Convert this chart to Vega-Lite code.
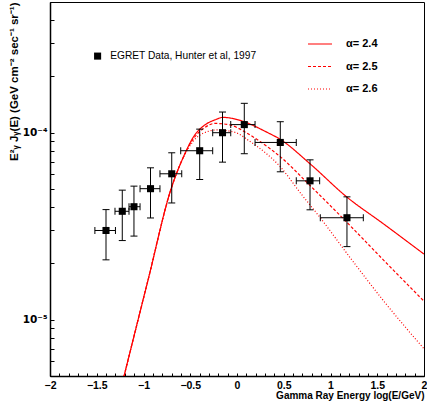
{
  "$schema": "https://vega.github.io/schema/vega-lite/v6.json",
  "width": 374,
  "height": 374,
  "autosize": {"type": "none"},
  "padding": {"left": 50, "top": 2, "right": 3, "bottom": 32},
  "background": "white",
  "config": {
    "view": {"stroke": "black", "strokeWidth": 1},
    "axis": {"grid": false, "labelOverlap": false, "labelBound": false, "domainColor": "black", "domainWidth": 1.5, "tickColor": "black", "tickWidth": 1, "labelFont": "Liberation Sans", "labelFontWeight": "bold", "labelColor": "black", "titleFont": "Liberation Sans", "titleColor": "black"}
  },
  "datasets": {
    "egret": [
      {"x": -1.401, "y": 3.0e-5, "ylo": 2.09e-5, "yhi": 3.88e-5, "xlo": -1.52, "xhi": -1.30},
      {"x": -1.227, "y": 3.80e-5, "ylo": 2.65e-5, "yhi": 4.93e-5, "xlo": -1.305, "xhi": -1.155},
      {"x": -1.102, "y": 4.02e-5, "ylo": 2.80e-5, "yhi": 5.18e-5, "xlo": -1.155, "xhi": -1.037},
      {"x": -0.925, "y": 5.02e-5, "ylo": 3.50e-5, "yhi": 6.49e-5, "xlo": -1.037, "xhi": -0.824},
      {"x": -0.698, "y": 6.03e-5, "ylo": 4.21e-5, "yhi": 7.81e-5, "xlo": -0.824, "xhi": -0.591},
      {"x": -0.399, "y": 8.01e-5, "ylo": 5.62e-5, "yhi": 1.045e-4, "xlo": -0.602, "xhi": -0.26},
      {"x": -0.155, "y": 1.0e-4, "ylo": 6.96e-5, "yhi": 1.29e-4, "xlo": -0.26, "xhi": -0.067},
      {"x": 0.078, "y": 1.105e-4, "ylo": 7.72e-5, "yhi": 1.436e-4, "xlo": -0.067, "xhi": 0.193},
      {"x": 0.463, "y": 8.87e-5, "ylo": 6.18e-5, "yhi": 1.145e-4, "xlo": 0.193, "xhi": 0.634},
      {"x": 0.781, "y": 5.53e-5, "ylo": 3.87e-5, "yhi": 7.16e-5, "xlo": 0.634, "xhi": 0.884},
      {"x": 1.176, "y": 3.51e-5, "ylo": 2.46e-5, "yhi": 4.54e-5, "xlo": 0.891, "xhi": 1.351}
    ],
    "models": [
      {"alpha": "α= 2.4", "x": -1.209, "y": 4.97e-6},
      {"alpha": "α= 2.4", "x": -0.953, "y": 1.618e-5},
      {"alpha": "α= 2.4", "x": -0.6995, "y": 5.11e-5},
      {"alpha": "α= 2.4", "x": -0.574, "y": 7.40e-5},
      {"alpha": "α= 2.4", "x": -0.467, "y": 9.47e-5},
      {"alpha": "α= 2.4", "x": -0.324, "y": 1.117e-4},
      {"alpha": "α= 2.4", "x": -0.235, "y": 1.171e-4},
      {"alpha": "α= 2.4", "x": -0.150, "y": 1.208e-4},
      {"alpha": "α= 2.4", "x": 0.032, "y": 1.164e-4},
      {"alpha": "α= 2.4", "x": 0.318, "y": 1.007e-4},
      {"alpha": "α= 2.4", "x": 0.463, "y": 9.21e-5},
      {"alpha": "α= 2.4", "x": 0.781, "y": 6.82e-5},
      {"alpha": "α= 2.4", "x": 1.177, "y": 4.52e-5},
      {"alpha": "α= 2.4", "x": 1.565, "y": 3.26e-5},
      {"alpha": "α= 2.4", "x": 2.0, "y": 2.243e-5},
      {"alpha": "α= 2.5", "x": -1.209, "y": 4.97e-6},
      {"alpha": "α= 2.5", "x": -0.953, "y": 1.618e-5},
      {"alpha": "α= 2.5", "x": -0.6995, "y": 5.11e-5},
      {"alpha": "α= 2.5", "x": -0.574, "y": 7.40e-5},
      {"alpha": "α= 2.5", "x": -0.471, "y": 9.21e-5},
      {"alpha": "α= 2.5", "x": -0.364, "y": 1.048e-4},
      {"alpha": "α= 2.5", "x": -0.235, "y": 1.121e-4},
      {"alpha": "α= 2.5", "x": -0.075, "y": 1.101e-4},
      {"alpha": "α= 2.5", "x": 0.075, "y": 1.016e-4},
      {"alpha": "α= 2.5", "x": 0.246, "y": 8.98e-5},
      {"alpha": "α= 2.5", "x": 0.460, "y": 7.46e-5},
      {"alpha": "α= 2.5", "x": 0.781, "y": 5.22e-5},
      {"alpha": "α= 2.5", "x": 1.177, "y": 3.31e-5},
      {"alpha": "α= 2.5", "x": 1.583, "y": 2.045e-5},
      {"alpha": "α= 2.5", "x": 2.0, "y": 1.256e-5},
      {"alpha": "α= 2.6", "x": -1.209, "y": 4.97e-6},
      {"alpha": "α= 2.6", "x": -0.953, "y": 1.618e-5},
      {"alpha": "α= 2.6", "x": -0.6995, "y": 5.11e-5},
      {"alpha": "α= 2.6", "x": -0.574, "y": 7.37e-5},
      {"alpha": "α= 2.6", "x": -0.471, "y": 8.98e-5},
      {"alpha": "α= 2.6", "x": -0.396, "y": 9.73e-5},
      {"alpha": "α= 2.6", "x": -0.310, "y": 1.016e-4},
      {"alpha": "α= 2.6", "x": -0.217, "y": 1.035e-4},
      {"alpha": "α= 2.6", "x": -0.021, "y": 1.004e-4},
      {"alpha": "α= 2.6", "x": 0.139, "y": 8.98e-5},
      {"alpha": "α= 2.6", "x": 0.300, "y": 7.84e-5},
      {"alpha": "α= 2.6", "x": 0.460, "y": 6.60e-5},
      {"alpha": "α= 2.6", "x": 0.674, "y": 4.79e-5},
      {"alpha": "α= 2.6", "x": 0.888, "y": 3.52e-5},
      {"alpha": "α= 2.6", "x": 1.209, "y": 2.15e-5},
      {"alpha": "α= 2.6", "x": 1.583, "y": 1.234e-5},
      {"alpha": "α= 2.6", "x": 2.0, "y": 6.99e-6}
    ]
  },
  "layer": [
    {
      "data": {"name": "models"},
      "mark": {"type": "line", "interpolate": "monotone", "strokeWidth": 1.2, "clip": true},
      "encoding": {
        "x": {
          "field": "x", "type": "quantitative",
          "scale": {"domain": [-2, 2], "nice": false, "zero": false},
          "axis": {
            "values": [-2,-1.9,-1.8,-1.7,-1.6,-1.5,-1.4,-1.3,-1.2,-1.1,-1,-0.9,-0.8,-0.7,-0.6,-0.5,-0.4,-0.3,-0.2,-0.1,0,0.1,0.2,0.3,0.4,0.5,0.6,0.7,0.8,0.9,1,1.1,1.2,1.3,1.4,1.5,1.6,1.7,1.8,1.9,2],
            "tickCount": 200,
            "tickSize": -3,
            "encode": {
              "ticks": {"update": {"y2": {"signal": "abs(datum.value*2 - round(datum.value*2)) < 0.001 ? -6 : -3"}}}
            },
            "labelExpr": "abs(datum.value*2 - round(datum.value*2)) < 0.001 ? format(datum.value, '~g') : ''",
            "labelPadding": {"condition": {"test": "abs(datum.value*2 - round(datum.value*2)) < 0.001", "value": 7}, "value": 300},
            "labelFlush": false,
            "labelOverlap": false,
            "labelFontSize": 10.5,
            "title": "Gamma Ray Energy log(E/GeV)",
            "titleAnchor": "end",
            "titleFontSize": 10,
            "titleFontWeight": "bold",
            "titleBaseline": "middle",
            "titleY": 19
          }
        },
        "y": {
          "field": "y", "type": "quantitative",
          "scale": {"type": "log", "domain": [5e-6, 5e-4], "nice": false},
          "axis": {
            "values": [5e-6,6e-6,7e-6,8e-6,9e-6,1e-5,2e-5,3e-5,4e-5,5e-5,6e-5,7e-5,8e-5,9e-5,1e-4,2e-4,3e-4,4e-4,5e-4],
            "tickCount": 200,
            "tickSize": -4,
            "encode": {
              "ticks": {"update": {"x2": {"signal": "abs(log(datum.value)/LN10 - round(log(datum.value)/LN10)) < 0.01 ? 8 : 4"}}}
            },
            "labelExpr": "abs(log(datum.value)/LN10 + 4) < 0.01 ? '10⁻⁴' : (abs(log(datum.value)/LN10 + 5) < 0.01 ? '10⁻⁵' : '')",
            "labelPadding": {"condition": {"test": "abs(log(datum.value)/LN10 - round(log(datum.value)/LN10)) < 0.01", "value": 7}, "value": 300},
            "labelOverlap": false,
            "labelFont": "DejaVu Sans",
            "labelFontSize": 10.5,
            "title": "E²ᵧ Jᵧ(E) (GeV cm⁻² sec⁻¹ sr⁻¹)",
            "titleAnchor": "end",
            "titleFontSize": 11.5,
            "titleFontWeight": "bold",
            "titleBaseline": "middle",
            "titleX": -36
          }
        },
        "color": {
          "field": "alpha", "type": "nominal",
          "scale": {"domain": ["α= 2.4", "α= 2.5", "α= 2.6"], "range": ["#ff0000", "#ff0000", "#ff0000"]},
          "legend": {"title": null, "orient": "none", "legendX": 257, "legendY": 29, "symbolType": "stroke", "symbolSize": 576, "symbolStrokeWidth": 1.2, "symbolStrokeColor": "#ff0000", "labelFont": "Liberation Sans", "labelFontWeight": "bold", "labelFontSize": 11, "labelColor": "black", "labelOffset": 13, "rowPadding": 4.5, "padding": 0}
        },
        "strokeDash": {
          "field": "alpha", "type": "nominal",
          "scale": {"domain": ["α= 2.4", "α= 2.5", "α= 2.6"], "range": [[1, 0], [3, 2], [1, 2]]},
          "legend": {"title": null, "orient": "none", "legendX": 257, "legendY": 29, "symbolType": "stroke", "symbolSize": 576, "symbolStrokeWidth": 1.2, "symbolStrokeColor": "#ff0000", "labelFont": "Liberation Sans", "labelFontWeight": "bold", "labelFontSize": 11, "labelColor": "black", "labelOffset": 13, "rowPadding": 4.5, "padding": 0}
        }
      }
    },
    {
      "data": {"name": "egret"},
      "mark": {"type": "rule", "color": "black", "strokeWidth": 1},
      "encoding": {
        "x": {"field": "xlo", "type": "quantitative", "scale": {"domain": [-2, 2], "nice": false, "zero": false}},
        "x2": {"field": "xhi"},
        "y": {"field": "y", "type": "quantitative", "scale": {"type": "log", "domain": [5e-6, 5e-4], "nice": false}}
      }
    },
    {
      "data": {"name": "egret"},
      "mark": {"type": "rule", "color": "black", "strokeWidth": 1},
      "encoding": {
        "x": {"field": "x", "type": "quantitative", "scale": {"domain": [-2, 2], "nice": false, "zero": false}},
        "y": {"field": "ylo", "type": "quantitative", "scale": {"type": "log", "domain": [5e-6, 5e-4], "nice": false}},
        "y2": {"field": "yhi"}
      }
    },
    {
      "data": {"name": "egret"},
      "mark": {"type": "tick", "orient": "horizontal", "size": 7, "thickness": 1, "color": "black", "opacity": 1},
      "encoding": {
        "x": {"field": "x", "type": "quantitative", "scale": {"domain": [-2, 2], "nice": false, "zero": false}},
        "y": {"field": "ylo", "type": "quantitative", "scale": {"type": "log", "domain": [5e-6, 5e-4], "nice": false}}
      }
    },
    {
      "data": {"name": "egret"},
      "mark": {"type": "tick", "orient": "horizontal", "size": 7, "thickness": 1, "color": "black", "opacity": 1},
      "encoding": {
        "x": {"field": "x", "type": "quantitative", "scale": {"domain": [-2, 2], "nice": false, "zero": false}},
        "y": {"field": "yhi", "type": "quantitative", "scale": {"type": "log", "domain": [5e-6, 5e-4], "nice": false}}
      }
    },
    {
      "data": {"name": "egret"},
      "mark": {"type": "tick", "orient": "vertical", "size": 7, "thickness": 1, "color": "black", "opacity": 1},
      "encoding": {
        "x": {"field": "xlo", "type": "quantitative", "scale": {"domain": [-2, 2], "nice": false, "zero": false}},
        "y": {"field": "y", "type": "quantitative", "scale": {"type": "log", "domain": [5e-6, 5e-4], "nice": false}}
      }
    },
    {
      "data": {"name": "egret"},
      "mark": {"type": "tick", "orient": "vertical", "size": 7, "thickness": 1, "color": "black", "opacity": 1},
      "encoding": {
        "x": {"field": "xhi", "type": "quantitative", "scale": {"domain": [-2, 2], "nice": false, "zero": false}},
        "y": {"field": "y", "type": "quantitative", "scale": {"type": "log", "domain": [5e-6, 5e-4], "nice": false}}
      }
    },
    {
      "data": {"name": "egret"},
      "mark": {"type": "point", "filled": true, "size": 50, "color": "black", "opacity": 1},
      "encoding": {
        "x": {"field": "x", "type": "quantitative", "scale": {"domain": [-2, 2], "nice": false, "zero": false}},
        "y": {"field": "y", "type": "quantitative", "scale": {"type": "log", "domain": [5e-6, 5e-4], "nice": false}},
        "shape": {
          "datum": "EGRET Data, Hunter et al, 1997",
          "scale": {"range": ["square"]},
          "legend": {"title": null, "orient": "none", "legendX": 42.5, "legendY": 49, "symbolSize": 50, "symbolFillColor": "black", "symbolStrokeColor": "black", "symbolOpacity": 1, "labelFont": "Liberation Sans", "labelFontSize": 10.2, "labelColor": "black", "labelOffset": 7.5, "padding": 0}
        }
      }
    }
  ]
}
